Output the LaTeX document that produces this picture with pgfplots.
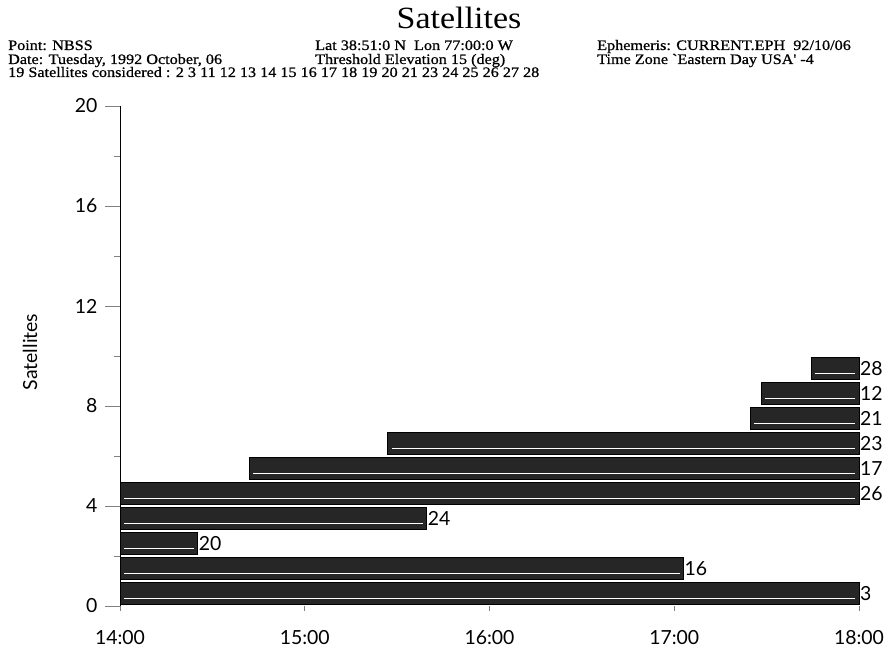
\documentclass[border=0pt]{standalone}
\usepackage{fontspec}
\setmainfont{Liberation Serif}
\newfontfamily\hdrfont[FakeStretch=1.12,FakeBold=0.8]{Liberation Serif}
\newfontfamily\ttlfont[FakeStretch=1.1]{Liberation Serif}
\newfontfamily\labfont{Lato}
\usepackage{pgfplots}
\usepackage{pgfplotstable}
\pgfplotsset{compat=1.18}

% satellite labels at bar ends (y = middle of bar row)
\pgfplotstableread{
mid end label
0.5 18.00 3
1.5 17.05 16
2.5 14.42 20
3.5 15.66 24
4.5 18.00 26
5.5 18.00 17
6.5 18.00 23
7.5 18.00 21
8.5 18.00 12
9.5 18.00 28
}\satlabels

\begin{document}
\begin{tikzpicture}[x=1bp,y=1bp]
\path[use as bounding box] (0,0) rectangle (889,650);
\node[anchor=base,inner sep=0] at (459,621) {\ttlfont\fontsize{31}{31}\selectfont Satellites};
\begin{scope}[every node/.style={anchor=base west,inner sep=0,font=\hdrfont\fontsize{14.5}{14.5}\selectfont}]
\node at (8,600) {Point: NBSS};
\node at (8,586) {Date: Tuesday, 1992 October, 06};
\node at (8,573) {19 Satellites considered : 2 3 11 12 13 14 15 16 17 18 19 20 21 23 24 25 26 27 28};
\node at (315,600) {Lat 38:51:0 N\ \ Lon 77:00:0 W};
\node at (315,586) {Threshold Elevation 15 (deg)};
\node at (597,600) {Ephemeris: CURRENT.EPH\ \ 92/10/06};
\node at (597,586) {Time Zone `Eastern Day USA' -4};
\end{scope}
\begin{axis}[
  at={(120bp,44bp)}, anchor=south west,
  scale only axis, width=739bp, height=500bp,
  xmin=14, xmax=18, ymin=0, ymax=20,
  axis lines=left, axis line style={-, line width=0.8bp},
  x axis line style={draw=none},
  xtick={14,15,16,17,18},
  xticklabels={14:00,15:00,16:00,17:00,18:00},
  ytick={0,4,8,12,16,20},
  minor ytick={2,6,10,14,18},
  tick align=outside,
  major tick length=15bp, minor tick length=6bp,
  xtick style={/pgfplots/major tick length=5bp, line width=1bp},
  ytick style={line width=0.8bp},
  tick label style={font=\labfont\fontsize{19.5}{19.5}\selectfont},
  /pgf/number format/assume math mode=true,
  xticklabel style={yshift=-6bp},
  yticklabel style={xshift=-4bp},
  ylabel={Satellites},
  ylabel style={at={(axis description cs:-0.1218,0.508)}, anchor=center, font=\labfont\fontsize{19.5}{19.5}\selectfont},
  clip=false,
]
\pgfplotsset{satbar/.style={fill=black!85, draw=black, line width=0.8bp}}
% level 0 : sat 3
\addplot[satbar] coordinates {(14,0.06) (18,0.06) (18,0.94) (14,0.94)} --cycle;
% level 1 : sat 16
\addplot[satbar] coordinates {(14,1.06) (17.05,1.06) (17.05,1.94) (14,1.94)} --cycle;
% level 2 : sat 20
\addplot[satbar] coordinates {(14,2.06) (14.42,2.06) (14.42,2.94) (14,2.94)} --cycle;
% level 3 : sat 24
\addplot[satbar] coordinates {(14,3.06) (15.66,3.06) (15.66,3.94) (14,3.94)} --cycle;
% level 4 : sat 26
\addplot[satbar] coordinates {(14,4.06) (18,4.06) (18,4.94) (14,4.94)} --cycle;
% level 5 : sat 17
\addplot[satbar] coordinates {(14.70,5.06) (18,5.06) (18,5.94) (14.70,5.94)} --cycle;
% level 6 : sat 23
\addplot[satbar] coordinates {(15.45,6.06) (18,6.06) (18,6.94) (15.45,6.94)} --cycle;
% level 7 : sat 21
\addplot[satbar] coordinates {(17.41,7.06) (18,7.06) (18,7.94) (17.41,7.94)} --cycle;
% level 8 : sat 12
\addplot[satbar] coordinates {(17.47,8.06) (18,8.06) (18,8.94) (17.47,8.94)} --cycle;
% level 9 : sat 28
\addplot[satbar] coordinates {(17.74,9.06) (18,9.06) (18,9.94) (17.74,9.94)} --cycle;
% white stripes inside the bars
\pgfplotsset{stripe/.style={white, line width=1.6bp}}
\addplot[stripe] coordinates {(14.02,0.3) (17.98,0.3)};
\addplot[stripe] coordinates {(14.02,1.3) (17.03,1.3)};
\addplot[stripe] coordinates {(14.02,2.3) (14.40,2.3)};
\addplot[stripe] coordinates {(14.02,3.3) (15.64,3.3)};
\addplot[stripe] coordinates {(14.02,4.3) (17.98,4.3)};
\addplot[stripe] coordinates {(14.72,5.3) (17.98,5.3)};
\addplot[stripe] coordinates {(15.47,6.3) (17.98,6.3)};
\addplot[stripe] coordinates {(17.43,7.3) (17.98,7.3)};
\addplot[stripe] coordinates {(17.49,8.3) (17.98,8.3)};
\addplot[stripe] coordinates {(17.76,9.3) (17.98,9.3)};
% labels
\addplot[only marks, draw=none, mark=*, mark size=0pt, mark options={draw=none,fill=none},
  nodes near coords, point meta=explicit symbolic,
  nodes near coords style={anchor=west, inner sep=1bp, black, font=\labfont\fontsize{19.5}{19.5}\selectfont}]
  table[x=end, y=mid, meta=label] {\satlabels};
\end{axis}
\end{tikzpicture}
\end{document}
